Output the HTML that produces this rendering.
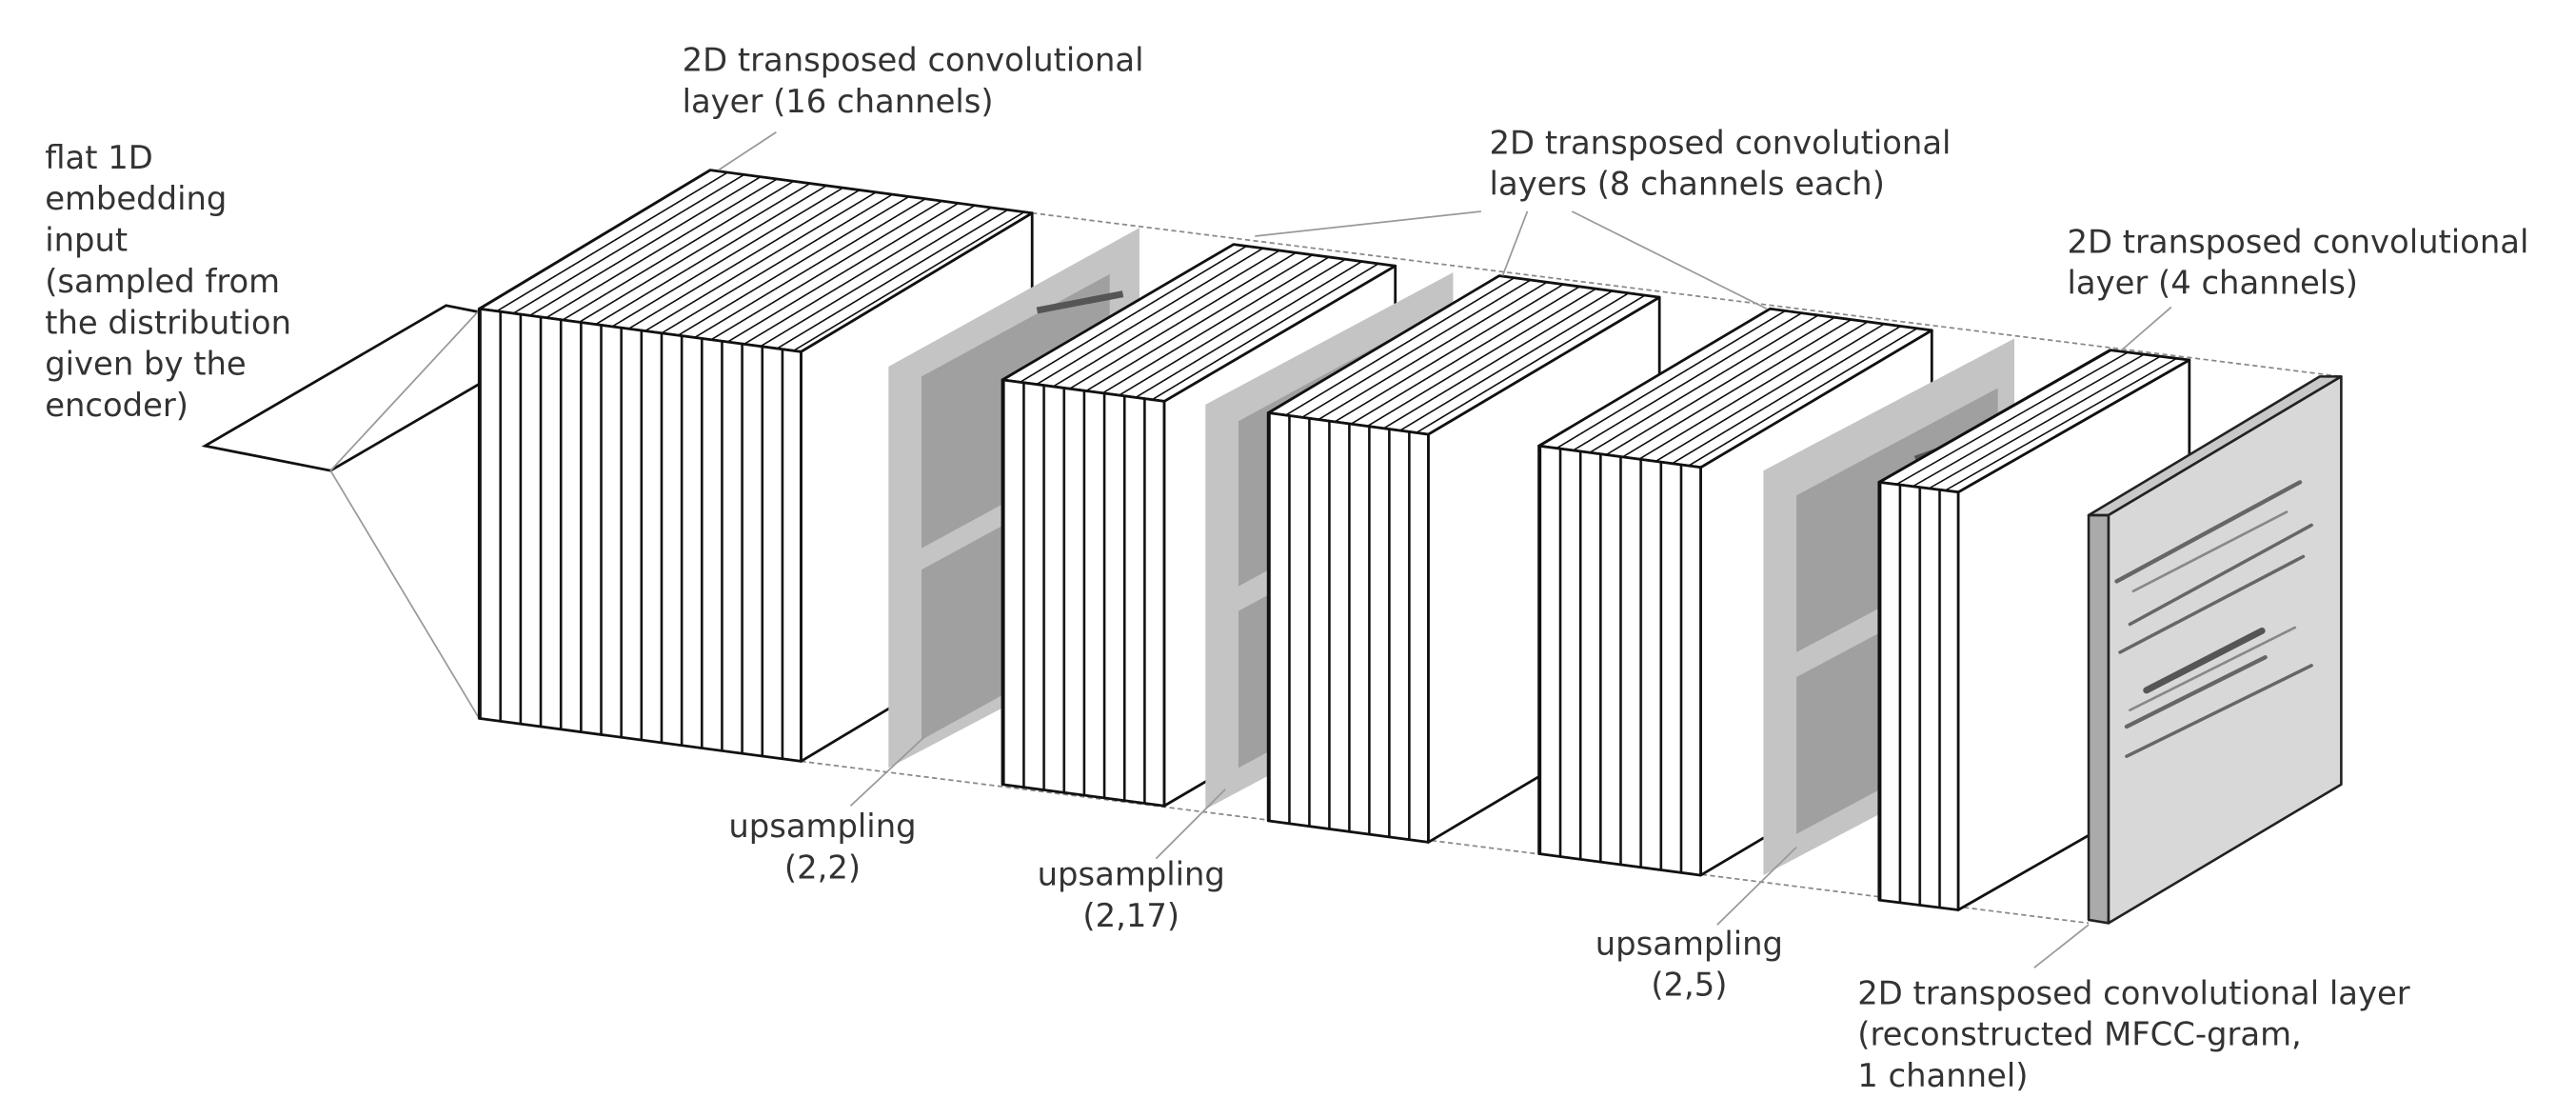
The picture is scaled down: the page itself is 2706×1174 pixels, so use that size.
<!DOCTYPE html>
<html><head><meta charset="utf-8"><style>
html,body{margin:0;padding:0;background:#fff;}
svg{display:block;}
text{font-family:"DejaVu Sans","Liberation Sans",sans-serif;font-size:19.5px;fill:#333;}
</style></head><body>
<svg width="2706" height="1174" viewBox="0 0 1560 677" xmlns="http://www.w3.org/2000/svg">
<defs>
<pattern id="v1" patternUnits="userSpaceOnUse" width="12.2" height="10" patternTransform="translate(290,0)"><rect width="12.2" height="10" fill="#fff"/><rect x="0" width="1.5" height="10" fill="#111"/></pattern>
<pattern id="v2" patternUnits="userSpaceOnUse" width="12.2" height="10" patternTransform="translate(607,0)"><rect width="12.2" height="10" fill="#fff"/><rect x="0" width="1.5" height="10" fill="#111"/></pattern>
<pattern id="v3" patternUnits="userSpaceOnUse" width="12.1" height="10" patternTransform="translate(768,0)"><rect width="12.1" height="10" fill="#fff"/><rect x="0" width="1.5" height="10" fill="#111"/></pattern>
<pattern id="v4" patternUnits="userSpaceOnUse" width="12.2" height="10" patternTransform="translate(932,0)"><rect width="12.2" height="10" fill="#fff"/><rect x="0" width="1.5" height="10" fill="#111"/></pattern>
<pattern id="v5" patternUnits="userSpaceOnUse" width="12" height="10" patternTransform="translate(1138,0)"><rect width="12" height="10" fill="#fff"/><rect x="0" width="1.5" height="10" fill="#111"/></pattern>
<pattern id="t1" patternUnits="userSpaceOnUse" width="12.2" height="10" patternTransform="translate(290,187) skewX(-59)"><rect width="12.2" height="10" fill="#fff"/><rect x="0" width="1.8" height="10" fill="#111"/></pattern>
<pattern id="t2" patternUnits="userSpaceOnUse" width="12.2" height="10" patternTransform="translate(607,230) skewX(-59)"><rect width="12.2" height="10" fill="#fff"/><rect x="0" width="1.8" height="10" fill="#111"/></pattern>
<pattern id="t3" patternUnits="userSpaceOnUse" width="12.1" height="10" patternTransform="translate(768,250) skewX(-59)"><rect width="12.1" height="10" fill="#fff"/><rect x="0" width="1.8" height="10" fill="#111"/></pattern>
<pattern id="t4" patternUnits="userSpaceOnUse" width="12.2" height="10" patternTransform="translate(932,270) skewX(-59)"><rect width="12.2" height="10" fill="#fff"/><rect x="0" width="1.8" height="10" fill="#111"/></pattern>
<pattern id="t5" patternUnits="userSpaceOnUse" width="12" height="10" patternTransform="translate(1138,292) skewX(-60.3)"><rect width="12" height="10" fill="#fff"/><rect x="0" width="1.8" height="10" fill="#111"/></pattern>
</defs>

<g stroke="#888" stroke-width="1" stroke-dasharray="3,2" fill="none">
<line x1="625" y1="129" x2="1418" y2="228"/>
<line x1="485" y1="213" x2="1265" y2="312"/>
<line x1="485" y1="461" x2="1265" y2="559"/>
<line x1="625" y1="377" x2="1418" y2="475"/>
</g>

<polygon points="124,270 270,185 346,200 200,285" fill="#fff" stroke="#111" stroke-width="1.6"/>
<g stroke="#999" stroke-width="1"><line x1="200" y1="285" x2="290" y2="188"/><line x1="200" y1="285" x2="290" y2="435"/></g>

<g stroke="#111" stroke-width="1.6" stroke-linejoin="round">
<polygon points="485,213 625,129 625,377 485,461" fill="#fff"/>
<polygon points="290,187 430,103 625,129 485,213" fill="url(#t1)"/>
<polygon points="290,187 485,213 485,461 290,435" fill="url(#v1)"/>
</g>

<polygon points="538,222 690,138 690,385 538,465" fill="#c4c4c4"/>
<polygon points="558,228 672,166 672,270 558,332" fill="#a0a0a0"/>
<polygon points="558,345 672,283 672,385 558,448" fill="#a0a0a0"/>
<line x1="628" y1="188" x2="680" y2="178" stroke="#555" stroke-width="4"/>

<g stroke="#111" stroke-width="1.6" stroke-linejoin="round">
<polygon points="705,243 845,161 845,406 705,488" fill="#fff"/>
<polygon points="607,230 747,148 845,161 705,243" fill="url(#t2)"/>
<polygon points="607,230 705,243 705,488 607,475" fill="url(#v2)"/>
</g>

<polygon points="730,245 880,165 880,410 730,490" fill="#c4c4c4"/>
<polygon points="750,255 870,190 870,290 750,355" fill="#a0a0a0"/>
<polygon points="750,370 870,305 870,400 750,465" fill="#a0a0a0"/>

<g stroke="#111" stroke-width="1.6" stroke-linejoin="round">
<polygon points="865,263 1005,180 1005,427 865,510" fill="#fff"/>
<polygon points="768,250 908,167 1005,180 865,263" fill="url(#t3)"/>
<polygon points="768,250 865,263 865,510 768,497" fill="url(#v3)"/>
</g>

<g stroke="#111" stroke-width="1.6" stroke-linejoin="round">
<polygon points="1030,283 1170,200 1170,447 1030,530" fill="#fff"/>
<polygon points="932,270 1072,187 1170,200 1030,283" fill="url(#t4)"/>
<polygon points="932,270 1030,283 1030,530 932,517" fill="url(#v4)"/>
</g>

<polygon points="1068,285 1220,205 1220,450 1068,530" fill="#c4c4c4"/>
<polygon points="1088,300 1210,235 1210,330 1088,395" fill="#a0a0a0"/>
<polygon points="1088,410 1210,345 1210,440 1088,505" fill="#a0a0a0"/>
<line x1="1160" y1="278" x2="1205" y2="262" stroke="#555" stroke-width="4"/>

<g stroke="#111" stroke-width="1.6" stroke-linejoin="round">
<polygon points="1186,298 1326,218 1326,471 1186,551" fill="#fff"/>
<polygon points="1138,292 1278,212 1326,218 1186,298" fill="url(#t5)"/>
<polygon points="1138,292 1186,298 1186,551 1138,545" fill="url(#v5)"/>
</g>

<g stroke="#222" stroke-width="1.5" stroke-linejoin="round">
<polygon points="1265,312 1405,228 1418,228 1277,312" fill="#c8c8c8"/>
<polygon points="1277,312 1418,228 1418,475 1277,559" fill="#d8d8d8"/>
<polygon points="1265,312 1277,312 1277,559 1265,557" fill="#aaa"/>
</g>
<g stroke="#666" stroke-linecap="round">
<line x1="1282" y1="352" x2="1393" y2="292" stroke-width="2.5"/>
<line x1="1292" y1="358" x2="1385" y2="310" stroke-width="1.5" stroke="#888"/>
<line x1="1290" y1="378" x2="1400" y2="318" stroke-width="2"/>
<line x1="1284" y1="395" x2="1395" y2="337" stroke-width="2"/>
<line x1="1300" y1="418" x2="1370" y2="382" stroke-width="4" stroke="#555"/>
<line x1="1290" y1="430" x2="1390" y2="380" stroke-width="1.5" stroke="#888"/>
<line x1="1288" y1="440" x2="1372" y2="398" stroke-width="2.5"/>
<line x1="1288" y1="458" x2="1400" y2="403" stroke-width="2"/>
</g>

<g stroke="#999" stroke-width="1" fill="none">
<line x1="470" y1="80" x2="435" y2="103"/>
<line x1="897" y1="128" x2="760" y2="143"/>
<line x1="925" y1="128" x2="910" y2="167"/>
<line x1="952" y1="128" x2="1070" y2="187"/>
<line x1="1315" y1="186" x2="1285" y2="212"/>
<line x1="515" y1="488" x2="560" y2="446"/>
<line x1="700" y1="520" x2="742" y2="478"/>
<line x1="1040" y1="560" x2="1088" y2="513"/>
<line x1="1232" y1="586" x2="1265" y2="560"/>
</g>

<text x="413" y="43">2D transposed convolutional</text>
<text x="413" y="68">layer (16 channels)</text>
<text x="27" y="102">flat 1D</text>
<text x="27" y="127">embedding</text>
<text x="27" y="152">input</text>
<text x="27" y="177">(sampled from</text>
<text x="27" y="202">the distribution</text>
<text x="27" y="227">given by the</text>
<text x="27" y="252">encoder)</text>
<text x="902" y="93">2D transposed convolutional</text>
<text x="902" y="118">layers (8 channels each)</text>
<text x="1252" y="153">2D transposed convolutional</text>
<text x="1252" y="178">layer (4 channels)</text>
<text x="498" y="507" text-anchor="middle">upsampling</text>
<text x="498" y="532" text-anchor="middle">(2,2)</text>
<text x="685" y="536" text-anchor="middle">upsampling</text>
<text x="685" y="561" text-anchor="middle">(2,17)</text>
<text x="1023" y="578" text-anchor="middle">upsampling</text>
<text x="1023" y="603" text-anchor="middle">(2,5)</text>
<text x="1125" y="608">2D transposed convolutional layer</text>
<text x="1125" y="633">(reconstructed MFCC-gram,</text>
<text x="1125" y="658">1 channel)</text>
</svg>
</body></html>
